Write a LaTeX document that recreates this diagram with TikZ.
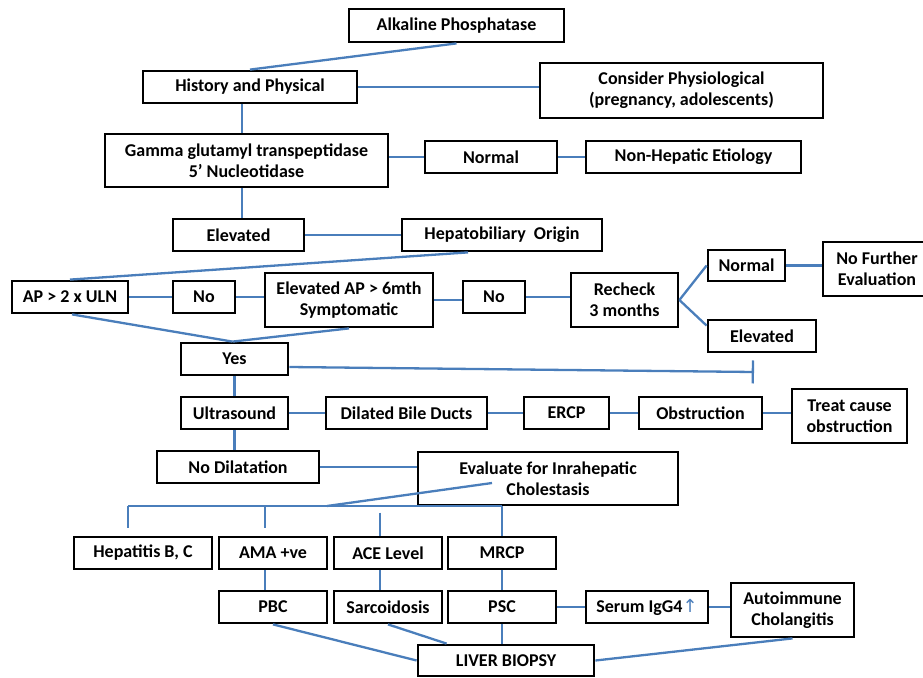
\documentclass[tikz,border=0pt]{standalone}
\usepackage{fontspec}
\setmainfont{Carlito}
\newfontfamily\symfont{DejaVu Sans}
\usetikzlibrary{arrows.meta}
\definecolor{linkblue}{HTML}{4A7EBB}

\begin{document}
\begin{tikzpicture}[x=1pt, y=-1pt,
    box/.style={draw=black, line width=2.8pt, fill=white, align=center, inner sep=0pt,
      font=\bfseries\fontsize{18}{21}\selectfont},
    sz/.style 2 args={minimum width=#1pt, minimum height=#2pt},
    link/.style={draw=linkblue, line width=2.3pt}]

\useasboundingbox (0,0) rectangle (923,677);

\node[box, sz={215}{33}] (alp) at (456.5,25.5) {Alkaline Phosphatase};
\node[box, sz={214}{32}] (hap) at (250,87) {History and Physical};
\node[box, sz={283}{55}] (phy) at (681.5,90.5) {Consider Physiological\\(pregnancy, adolescents)};
\node[box, sz={283}{53}] (ggt) at (246.5,160.5) {Gamma glutamyl transpeptidase\\5’ Nucleotidase};
\node[box, sz={132}{32}] (nor1) at (491,157) {Normal};
\node[box, sz={215}{32}] (nhe) at (693.5,157) {Non-Hepatic Etiology};
\node[box, sz={131}{32}] (ele1) at (238.5,235) {Elevated};
\node[box, sz={200}{32}] (hbo) at (502,235) {Hepatobiliary\ \ Origin};
\node[box, sz={116}{32}] (ap2) at (70,297) {AP > 2 x ULN};
\node[box, sz={62}{32}] (no1) at (204,297) {No};
\node[box, sz={168}{54}] (eap) at (349,300) {Elevated AP > 6mth\\Symptomatic};
\node[box, sz={62}{32}] (no2) at (494,297) {No};
\node[box, sz={107}{54}] (rck) at (624.5,300) {Recheck\\3 months};
\node[box, sz={77}{31}] (nor2) at (746.5,265.5) {Normal};
\node[box, sz={108}{54}] (nfe) at (877,269) {No Further\\Evaluation};
\node[box, sz={108}{32}] (ele2) at (762,336) {Elevated};
\node[box, sz={107}{32}] (yes) at (234.5,359) {Yes};
\node[box, sz={107}{32}] (uls) at (234.5,413) {Ultrasound};
\node[box, sz={161}{32}] (dbd) at (406.5,413) {Dilated Bile Ducts};
\node[box, sz={85}{32}] (ercp) at (566.5,413) {ERCP};
\node[box, sz={123}{32}] (obs) at (700.5,413) {Obstruction};
\node[box, sz={115}{54}] (tco) at (849.5,416) {Treat cause\\obstruction};
\node[box, sz={162}{32}] (nod) at (238,467) {No Dilatation};
\node[box, sz={260}{53}] (eic) at (548,478.5) {Evaluate for Inrahepatic\\Cholestasis};
\node[box, sz={138}{32}] (hbc) at (143,553) {Hepatitis B, C};
\node[box, sz={108}{32}] (ama) at (273,553) {AMA +ve};
\node[box, sz={108}{32}] (ace) at (388,553) {ACE Level};
\node[box, sz={108}{32}] (mrcp) at (502,553) {MRCP};
\node[box, sz={108}{32}] (pbc) at (273,607) {PBC};
\node[box, sz={108}{32}] (sar) at (388,607) {Sarcoidosis};
\node[box, sz={108}{32}] (psc) at (502,607) {PSC};
\node[box, sz={122}{32}] (igg) at (647,607) {Serum IgG4{\symfont\mdseries\color{linkblue}↑}};
\node[box, sz={123}{54}] (aic) at (792.5,610) {Autoimmune\\Cholangitis};
\node[box, sz={176}{31}] (lvb) at (506,660.5) {LIVER BIOPSY};

\coordinate (stop) at (754,372);
\coordinate (busL) at (128,506);
\coordinate (busM) at (327,506);
\coordinate (busR) at (502,506);
\coordinate (amatop) at ([xshift=-8pt,yshift=8pt]ama.north);
\coordinate (acetop) at ([xshift=-8pt]ace.north);

\draw[link] (alp.south) -- (hap.north);
\draw[link] (hap.east) -- (hap.east -| phy.west);
\draw[link] ([xshift=-8pt]hap.south) -- ([xshift=-4.5pt]ggt.north);
\draw[link] (nor1.west) -- (nor1.west -| ggt.east);
\draw[link] (nor1.east) -- (nhe.west);
\draw[link] ([xshift=-4.5pt]ggt.south) -- ([xshift=3.5pt]ele1.north);
\draw[link] (ele1.east) -- (hbo.west);
\draw[link] ([xshift=-34pt]hbo.south) -- (ap2.north);
\draw[link] (ap2.east) -- (no1.west);
\draw[link] (no1.east) -- (no1.east -| eap.west);
\draw[link] (eap.east) -- (eap.east -| no2.west);
\draw[link] (no2.east) -- (no2.east -| rck.west);
\draw[link] (rck.east) -- (nor2.west);
\draw[link] (rck.east) -- ([yshift=-7pt]ele2.north west);
\draw[link] (nor2.east) -- (nor2.east -| nfe.west);
\draw[link] ([xshift=2pt]ap2.south) -- ([xshift=-2pt]yes.north);
\draw[link] (eap.south) -- ([xshift=-2pt]yes.north);
\draw[link, -{Bar[width=23pt]}] ([yshift=-8pt]yes.east) -- (stop);
\draw[link] (yes.south) -- (uls.north);
\draw[link] (uls.east) -- (dbd.west);
\draw[link] (dbd.east) -- (ercp.west);
\draw[link] (ercp.east) -- (obs.west);
\draw[link] (obs.east) -- (obs.east -| tco.west);
\draw[link] (uls.south) -- (uls.south |- nod.north);
\draw[link] (nod.east) -- (nod.east -| eic.west);
\draw[link] ([xshift=-56pt,yshift=-4.5pt]eic.center) -- (busM);
\draw[link] (busL) -- (busR);
\draw[link] (busL) -- ([xshift=-15pt,yshift=8pt]hbc.north);
\draw[link] (amatop |- busL) -- (amatop);
\draw[link] ([yshift=23pt]acetop) -- (acetop);
\draw[link] (busR) -- (mrcp.north);
\draw[link] ([xshift=-8pt]ama.south) -- ([xshift=-8pt]pbc.north);
\draw[link] ([xshift=-8pt]ace.south) -- ([xshift=-8pt]sar.north);
\draw[link] (mrcp.south) -- (psc.north);
\draw[link] (psc.south) -- (psc.south |- lvb.north);
\draw[link] (pbc.south) -- (lvb.west);
\draw[link] (sar.south) -- ([xshift=30pt]lvb.north west);
\draw[link] (psc.east) -- (igg.west);
\draw[link] (igg.east) -- (igg.east -| aic.west);
\draw[link] (lvb.east) -- (aic.south);

\end{tikzpicture}
\end{document}
